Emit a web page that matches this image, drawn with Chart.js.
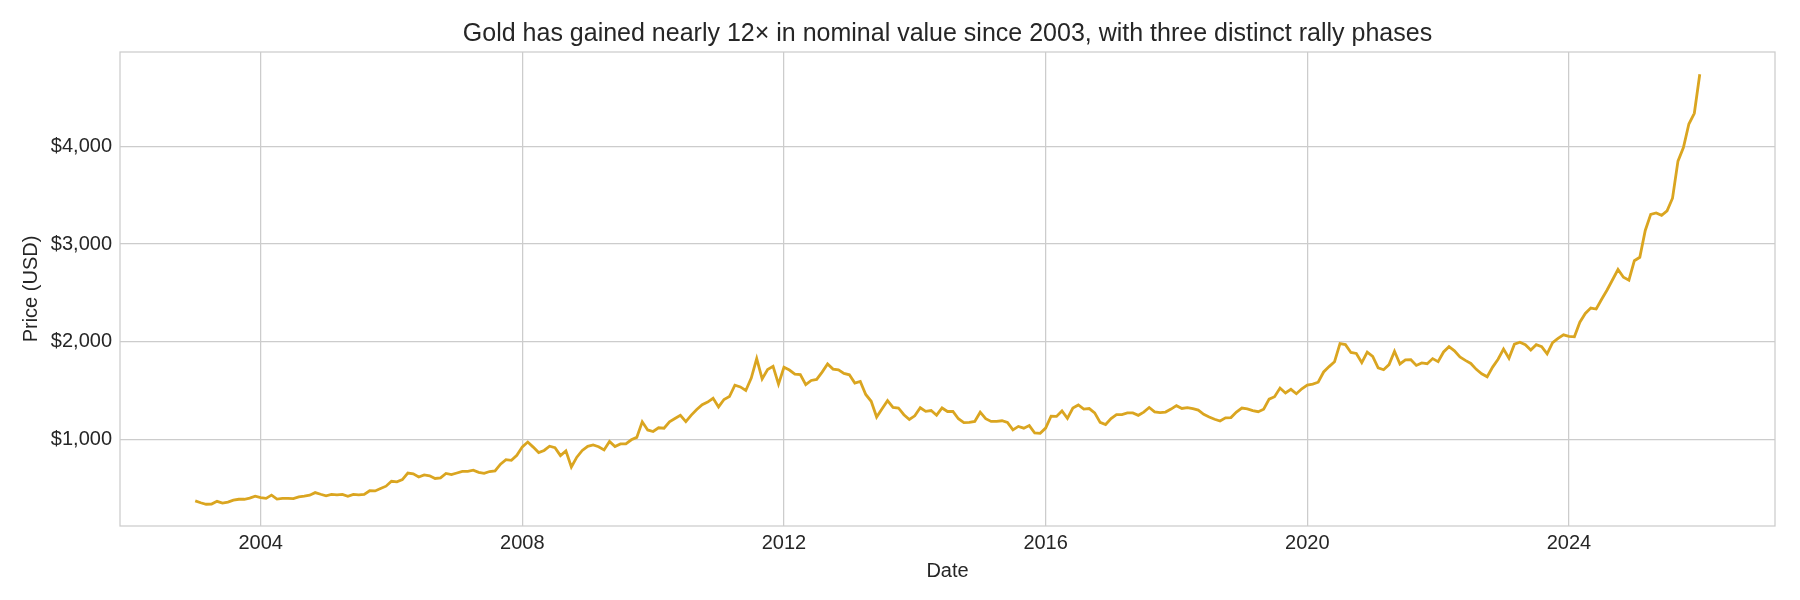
<!DOCTYPE html>
<html>
<head>
<meta charset="utf-8">
<title>Gold price</title>
<script src="https://cdn.jsdelivr.net/npm/chart.js@4.4.1/dist/chart.umd.min.js"></script>
<style>
	html, body { margin: 0; padding: 0; background: #ffffff; }
	#wrap { width: 1800px; height: 600px; }
</style>
</head>
<body>
<div id="wrap"><canvas id="goldchart" width="1800" height="600"></canvas></div>
<script>
// monthly close, USD per troy ounce, first point is Jan 2003
var startYear = 2003;
var closes = [
	370, 350, 335, 337, 365, 346, 356, 376, 386, 386, 397, 417,             // 2003
	402, 395, 428, 388, 394, 394, 393, 410, 418, 428, 454, 437,             // 2004
	422, 435, 430, 435, 416, 436, 431, 436, 473, 471, 496, 520,             // 2005
	570, 564, 587, 655, 646, 614, 636, 626, 599, 605, 650, 638,             // 2006
	655, 672, 672, 684, 662, 651, 670, 676, 746, 792, 785, 836,             // 2007
	923, 972, 920, 864, 886, 929, 915, 833, 882, 716, 817, 886,             // 2008
	928, 942, 924, 891, 978, 926, 953, 953, 995, 1020, 1180, 1096,          // 2009
	1080, 1118, 1114, 1180, 1213, 1245, 1181, 1248, 1305, 1355, 1382, 1420, // 2010
	1332, 1408, 1438, 1555, 1537, 1500, 1627, 1827, 1619, 1715, 1748, 1566, // 2011
	1738, 1710, 1668, 1664, 1561, 1603, 1614, 1689, 1772, 1719, 1711, 1675, // 2012
	1661, 1577, 1594, 1460, 1390, 1228, 1314, 1396, 1327, 1321, 1252, 1203, // 2013
	1241, 1323, 1286, 1295, 1247, 1321, 1285, 1287, 1211, 1171, 1174, 1183, // 2014
	1278, 1212, 1183, 1184, 1190, 1172, 1096, 1132, 1114, 1141, 1065, 1061, // 2015
	1115, 1236, 1235, 1291, 1215, 1321, 1352, 1309, 1315, 1271, 1173, 1152, // 2016
	1213, 1254, 1254, 1270, 1271, 1246, 1278, 1326, 1282, 1274, 1279, 1310, // 2017
	1345, 1316, 1325, 1314, 1299, 1256, 1229, 1206, 1188, 1220, 1223, 1280, // 2018
	1320, 1312, 1295, 1283, 1308, 1411, 1436, 1525, 1475, 1512, 1467, 1518, // 2019
	1555, 1565, 1585, 1690, 1745, 1795, 1980, 1970, 1890, 1880, 1785, 1893, // 2020
	1850, 1732, 1713, 1765, 1902, 1772, 1814, 1815, 1757, 1783, 1775, 1827, // 2021
	1796, 1895, 1949, 1907, 1843, 1809, 1777, 1717, 1672, 1641, 1740, 1820, // 2022
	1925, 1830, 1975, 1995, 1970, 1915, 1970, 1950, 1875, 1990, 2035, 2070, // 2023
	2055, 2050, 2200, 2290, 2345, 2335, 2435, 2530, 2635, 2740, 2660, 2630, // 2024
	2830, 2865, 3140, 3305, 3320, 3295, 3340, 3470, 3850, 3990, 4230, 4340, // 2025
	4740                                                                    // 2026
];
var xTicks = [2004, 2008, 2012, 2016, 2020, 2024];
var yTicks = [1000, 2000, 3000, 4000];

var FONT = "'Liberation Sans', Arial, sans-serif";
var TEXT = "#262626";
var GRID = "#cccccc";

function buildPoints() {
	var pts = [];
	for (var i = 0; i < closes.length; i++) {
		pts.push({ x: startYear + i / 12, y: closes[i] });
	}
	return pts;
}

// seaborn style box around the plot area
var frame = {
	id: "frame",
	afterDraw: function (chart) {
		var a = chart.chartArea, ctx = chart.ctx;
		ctx.save();
		ctx.strokeStyle = GRID;
		ctx.lineWidth = 1.25;
		ctx.strokeRect(a.left, a.top, a.right - a.left, a.bottom - a.top);
		ctx.restore();
	}
};

function CreateChart() {
	var config = {
		type: "line",
		data: {
			datasets: [{
				data: buildPoints(),
				borderColor: "#DAA520",
				borderWidth: 2.8,
				pointRadius: 0,
				tension: 0,
				fill: false
			}]
		},
		options: {
			responsive: false,
			animation: false,
			devicePixelRatio: 1,
			layout: { padding: { left: 0, right: 25, top: 0, bottom: 0 } },
			plugins: {
				legend: { display: false },
				tooltip: { enabled: false },
				title: {
					display: true,
					fullSize: false,
					text: "Gold has gained nearly 12\u00d7 in nominal value since 2003, with three distinct rally phases",
					color: TEXT,
					font: { family: FONT, size: 25, weight: "normal", lineHeight: 1.2 },
					padding: { top: 19, bottom: 3 }
				}
			},
			scales: {
				x: {
					type: "linear",
					min: 2001.85,
					max: 2027.15,
					afterBuildTicks: function (scale) {
						scale.ticks = xTicks.map(function (v) { return { value: v }; });
					},
					afterFit: function (scale) { scale.height = 74; },
					ticks: {
						color: TEXT,
						padding: 5,
						maxRotation: 0,
						font: { family: FONT, size: 20 },
						callback: function (v) { return String(v); }
					},
					grid: { color: GRID, lineWidth: 1.25, drawTicks: false },
					border: { display: false },
					title: {
						display: true,
						text: "Date",
						color: TEXT,
						font: { family: FONT, size: 20 },
						padding: { top: 0, bottom: 16.3 }
					}
				},
				y: {
					type: "linear",
					min: 112,
					max: 4968,
					afterBuildTicks: function (scale) {
						scale.ticks = yTicks.map(function (v) { return { value: v }; });
					},
					afterFit: function (scale) { scale.width = 120; },
					ticks: {
						color: TEXT,
						padding: 8,
						font: { family: FONT, size: 20 },
						callback: function (v) { return "$" + v.toLocaleString("en-US"); }
					},
					grid: { color: GRID, lineWidth: 1.25, drawTicks: false },
					border: { display: false },
					title: {
						display: true,
						text: "Price (USD)",
						color: TEXT,
						font: { family: FONT, size: 20 },
						padding: { top: 19, bottom: 0 }
					}
				}
			}
		},
		plugins: [frame]
	};
	var ctx = document.getElementById("goldchart").getContext("2d");
	window.goldchart = new Chart(ctx, config);
}

CreateChart();
</script>
</body>
</html>
